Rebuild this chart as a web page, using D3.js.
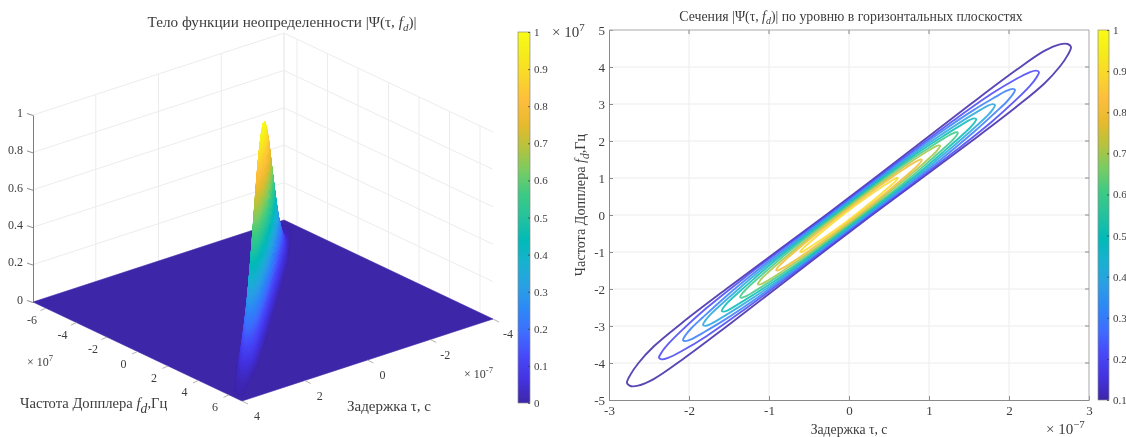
<!DOCTYPE html>
<html>
<head>
<meta charset="utf-8">
<script src="https://cdn.jsdelivr.net/npm/d3@7"></script>
<style>
  html, body { margin: 0; padding: 0; background: #fff; overflow: hidden; }
  svg { display: block; filter: blur(0.55px); }
  text { font-family: "Liberation Serif", serif; fill: #3c3c3c; }
</style>
</head>
<body>
<div id="chart"></div>
<script>
//Values. tau in 1e-7 s, fd in 1e7 Hz
const colorTicks3d = [0, 0.1, 0.2, 0.3, 0.4, 0.5, 0.6, 0.7, 0.8, 0.9, 1];
const colorTicks2d = [0.1, 0.2, 0.3, 0.4, 0.5, 0.6, 0.7, 0.8, 0.9, 1];
const zTicks = [0, 0.2, 0.4, 0.6, 0.8, 1];
const fdTicks3d = [-6, -4, -2, 0, 2, 4, 6];
const tauTicks3d = [-4, -2, 0, 2, 4];
const tauTicks2d = [-3, -2, -1, 0, 1, 2, 3];
const fdTicks2d = [-5, -4, -3, -2, -1, 0, 1, 2, 3, 4, 5];

//parula colormap
const parulaStops = ["#3e26a8", "#4433e0", "#4748f9", "#3f6cfe", "#2d87f7", "#2a9fe4", "#18b1d0",
                     "#01bab8", "#24c29d", "#3dca84", "#77cc63", "#b4c33e", "#e7ba2c", "#fdbd3c",
                     "#fad52c", "#f5eb1c", "#f9fb15"];

//Contours, one closed curve per level
const levels = [0.1, 0.2, 0.3, 0.4, 0.5, 0.6, 0.7, 0.8, 0.9];
const levelTipTau = [2.775, 2.375, 2.075, 1.825, 1.59, 1.36, 1.14, 0.91, 0.61];
const levelTipFd = [4.54, 3.86, 3.38, 2.97, 2.59, 2.22, 1.87, 1.49, 1.0];
const tipFractions = [0, 0.3, 0.55, 0.75, 0.88, 0.95, 0.985, 1];
const levelHalfWidth = [
  [0.47, 0.49, 0.51, 0.50, 0.44, 0.30, 0.15, 0],
  [0.43, 0.44, 0.43, 0.38, 0.28, 0.19, 0.10, 0],
  [0.39, 0.39, 0.37, 0.30, 0.21, 0.15, 0.08, 0],
  [0.35, 0.35, 0.32, 0.25, 0.18, 0.13, 0.07, 0],
  [0.31, 0.31, 0.28, 0.21, 0.15, 0.11, 0.06, 0],
  [0.27, 0.27, 0.24, 0.18, 0.13, 0.09, 0.05, 0],
  [0.23, 0.22, 0.19, 0.15, 0.11, 0.08, 0.04, 0],
  [0.18, 0.17, 0.15, 0.12, 0.09, 0.06, 0.035, 0],
  [0.13, 0.12, 0.10, 0.075, 0.055, 0.04, 0.02, 0]
];

//Surface heights, stations along the ridge (one side, the other mirrors it)
const ridgeTau = [0, 0.3, 0.6, 0.9, 1.2, 1.5, 1.8, 2.1, 2.4, 2.7, 3.0, 3.4, 3.9];
const ridgeFd = [0, 0.49, 0.98, 1.47, 1.96, 2.45, 2.94, 3.43, 3.92, 4.41, 4.9, 5.56, 6.37];
const ridgeOffset = [0, 0.15, 0.3, 0.4, 0.5, 0.65];
const ridgeHeight = [
  [1, 0.88, 0.6, 0.33, 0.08, 0],
  [0.975, 0.86, 0.58, 0.32, 0.08, 0],
  [0.9, 0.78, 0.52, 0.29, 0.08, 0],
  [0.8, 0.68, 0.45, 0.25, 0.08, 0],
  [0.67, 0.57, 0.38, 0.21, 0.08, 0],
  [0.54, 0.46, 0.31, 0.18, 0.07, 0],
  [0.41, 0.35, 0.24, 0.15, 0.06, 0],
  [0.29, 0.25, 0.18, 0.12, 0.05, 0],
  [0.195, 0.17, 0.125, 0.08, 0.03, 0],
  [0.115, 0.10, 0.07, 0.04, 0.01, 0],
  [0.06, 0.05, 0.035, 0.015, 0, 0],
  [0.02, 0.015, 0.01, 0, 0, 0],
  [0, 0, 0, 0, 0, 0]
];

const width = 1126;
const height = 437;
const axisColor = "#6e6e6e";
const gridColor = "#ececec";

const svg = d3.select("#chart").append("svg")
              .attr("width", width)
              .attr("height", height);

const parula = d3.scaleLinear()
                 .domain(parulaStops.map((d, i) => i / (parulaStops.length - 1)))
                 .range(parulaStops)
                 .clamp(true);

//Title helper, keeps the italic f and subscript d as real text
function addFormula(t, size) {
  t.append("tspan").text("f").attr("font-style", "italic");
  t.append("tspan").text("d").attr("font-style", "italic")
   .attr("font-size", size * 0.72).attr("dy", size * 0.25);
}

function timesTen(x, y, size, exp, anchor) {
  const t = svg.append("text").attr("x", x).attr("y", y)
               .attr("font-size", size).attr("text-anchor", anchor || "start");
  t.append("tspan").text("× 10");
  t.append("tspan").text(exp).attr("font-size", size * 0.72).attr("dy", -size * 0.42);
}

//Colorbar, shared by both plots
function colorbar(x0, x1, y0, y1, domain, ticks) {
  const id = "bar" + x0;
  const grad = svg.append("defs").append("linearGradient").attr("id", id)
                  .attr("x1", 0).attr("x2", 0).attr("y1", 1).attr("y2", 0);
  grad.selectAll("stop").data(parulaStops).join("stop")
      .attr("offset", (d, i) => i / (parulaStops.length - 1))
      .attr("stop-color", d => d);
  svg.append("rect").attr("x", x0).attr("y", y0)
     .attr("width", x1 - x0).attr("height", y1 - y0)
     .attr("fill", "url(#" + id + ")")
     .attr("stroke", "#8a8a8a").attr("stroke-width", 0.7);
  const scale = d3.scaleLinear().domain(domain).range([y1, y0]);
  const axis = svg.append("g")
                  .attr("transform", "translate(" + x1 + ",0)")
                  .call(d3.axisRight(scale).tickValues(ticks).tickFormat(String).tickSize(0).tickPadding(4));
  axis.select(".domain").remove();
  axis.selectAll("text").attr("font-size", 11).style("font-family", "Liberation Serif").attr("fill", "#3c3c3c");
  axis.selectAll(".tick").append("line")
      .attr("x1", -2).attr("x2", 0).attr("stroke", "#333").attr("stroke-width", 0.7);
}

//----- Left plot: surface in a fixed oblique view -----
const originX = 263;
const originY = 310.5;
const fdLim = 6.85;
const tauLim = 4;
const fdToX = d3.scaleLinear().domain([-fdLim, fdLim]).range([-104.5, 104.5]);
const fdToY = d3.scaleLinear().domain([-fdLim, fdLim]).range([-49.5, 49.5]);
const tauToX = d3.scaleLinear().domain([-tauLim, tauLim]).range([125.5, -125.5]);
const tauToY = d3.scaleLinear().domain([-tauLim, tauLim]).range([-41, 41]);
const zToY = d3.scaleLinear().domain([0, 1]).range([0, -187]);

function project(tau, fd, z) {
  return [originX + fdToX(fd) + tauToX(tau),
          originY + fdToY(fd) + tauToY(tau) + zToY(z || 0)];
}

const line3d = d3.line();
function wallLine(pts, color, w) {
  svg.append("path").attr("d", line3d(pts)).attr("fill", "none")
     .attr("stroke", color).attr("stroke-width", w || 1);
}

//Back walls: fd = -fdLim on the left, tau = -tauLim on the right
zTicks.filter(z => z > 0).forEach(z => {
  wallLine([project(tauLim, -fdLim, z), project(-tauLim, -fdLim, z), project(-tauLim, fdLim, z)], gridColor);
});
tauTicks3d.concat([-tauLim]).filter(t => t < tauLim).forEach(t => {
  wallLine([project(t, -fdLim, 0), project(t, -fdLim, 1)], gridColor);
});
fdTicks3d.forEach(f => {
  wallLine([project(-tauLim, f, 0), project(-tauLim, f, 1)], gridColor);
});

//Floor
svg.append("path")
   .attr("d", line3d([project(tauLim, -fdLim), project(-tauLim, -fdLim),
                      project(-tauLim, fdLim), project(tauLim, fdLim)]) + "Z")
   .attr("fill", parula(0)).attr("stroke", parula(0)).attr("stroke-width", 0.6);

//Surface mesh, interpolated shading between the stations
const fullTau = ridgeTau.slice(1).reverse().map(d => -d).concat(ridgeTau);
const fullFd = ridgeFd.slice(1).reverse().map(d => -d).concat(ridgeFd);
const fullHeight = ridgeHeight.slice(1).reverse().concat(ridgeHeight);
const fullOffset = ridgeOffset.slice(1).reverse().map(d => -d).concat(ridgeOffset);
const fullRow = r => r.slice(1).reverse().concat(r);
const heightGrid = fullHeight.map(fullRow);

function vertex(u, v) {
  const i = Math.min(Math.floor(u), fullTau.length - 2);
  const j = Math.min(Math.floor(v), fullOffset.length - 2);
  const a = u - i;
  const b = v - j;
  const tau = fullTau[i] + a * (fullTau[i + 1] - fullTau[i]);
  const fd = fullFd[i] + a * (fullFd[i + 1] - fullFd[i]) +
             fullOffset[j] + b * (fullOffset[j + 1] - fullOffset[j]);
  const z = (1 - a) * (1 - b) * heightGrid[i][j] + a * (1 - b) * heightGrid[i + 1][j] +
            (1 - a) * b * heightGrid[i][j + 1] + a * b * heightGrid[i + 1][j + 1];
  return {tau: tau, fd: fd, z: z};
}

const quads = [];
const subU = 8;
const subV = 6;
for (let u = 0; u < (fullTau.length - 1) * subU; u++) {
  for (let v = 0; v < (fullOffset.length - 1) * subV; v++) {
    const c = [vertex(u / subU, v / subV), vertex((u + 1) / subU, v / subV),
               vertex((u + 1) / subU, (v + 1) / subV), vertex(u / subU, (v + 1) / subV)];
    const z = d3.mean(c, d => d.z);
    if (z <= 0.002) continue;
    quads.push({
      pts: c.map(d => project(d.tau, d.fd, d.z)),
      z: z,
      depth: d3.mean(c, d => project(d.tau, d.fd, 0)[1])
    });
  }
}
quads.sort((a, b) => a.depth - b.depth);

svg.append("g").selectAll("path").data(quads).join("path")
   .attr("d", d => line3d(d.pts) + "Z")
   .attr("fill", d => parula(d.z))
   .attr("stroke", d => parula(d.z))
   .attr("stroke-width", 0.5);

//z axis
const zAxisScale = d3.scaleLinear().domain([0, 1]).range([project(tauLim, -fdLim, 0)[1], project(tauLim, -fdLim, 1)[1]]);
const zAxis = svg.append("g")
                 .attr("transform", "translate(" + project(tauLim, -fdLim)[0] + ",0)")
                 .call(d3.axisLeft(zAxisScale).tickValues(zTicks).tickFormat(String).tickSize(0).tickPadding(10));
zAxis.select(".domain").attr("stroke", axisColor).attr("stroke-width", 0.9);
zAxis.selectAll(".tick line").attr("x2", -6).attr("y2", -2).attr("stroke", axisColor).attr("stroke-width", 0.8);
zAxis.selectAll("text").attr("font-size", 12).attr("dy", "0.1em").attr("fill", "#3c3c3c").style("font-family", "Liberation Serif");

//Floor axes, ticks and labels placed through the projection
fdTicks3d.forEach(f => {
  const p = project(tauLim, f);
  wallLine([p, [p[0] - 5.5, p[1] + 2.5]], "#a0a0a0", 0.8);
  svg.append("text").attr("x", p[0] - 14).attr("y", p[1] + 16)
     .attr("text-anchor", "middle").attr("font-size", 12).text(f);
});
tauTicks3d.forEach(t => {
  const p = project(t, fdLim);
  wallLine([p, [p[0] + 6, p[1] + 3]], "#a0a0a0", 0.8);
  svg.append("text").attr("x", p[0] + 15).attr("y", p[1] + 19)
     .attr("text-anchor", "middle").attr("font-size", 12).text(t);
});

//Left titles
const title3d = svg.append("text").attr("x", 282).attr("y", 27)
                   .attr("text-anchor", "middle").attr("font-size", 15.2);
title3d.append("tspan").text("Тело функции неопределенности |Ψ(τ, ");
addFormula(title3d, 15.2);
title3d.append("tspan").text(")|").attr("dy", -3.8);

const fdLabel3d = svg.append("text").attr("x", 20).attr("y", 408).attr("font-size", 14.6);
fdLabel3d.append("tspan").text("Частота Допплера ");
addFormula(fdLabel3d, 19);
fdLabel3d.append("tspan").text(",Гц").attr("dy", -4.7);

svg.append("text").attr("x", 347).attr("y", 411).attr("font-size", 15).text("Задержка τ, с");
timesTen(27, 366, 12, "7");
timesTen(464, 378, 12, "-7");

colorbar(518, 530, 32, 403, [0, 1], colorTicks3d);

//----- Right plot: contour lines -----
const left = 609;
const right = 1089;
const top2d = 30;
const bottom = 400;
const xScale = d3.scaleLinear().domain([-3, 3]).range([left, right]);
const yScale = d3.scaleLinear().domain([-5, 5]).range([bottom, top2d]);

//Grid
svg.append("g").selectAll("line").data(tauTicks2d.slice(1, -1)).join("line")
   .attr("x1", d => xScale(d)).attr("x2", d => xScale(d))
   .attr("y1", top2d).attr("y2", bottom).attr("stroke", gridColor);
svg.append("g").selectAll("line").data(fdTicks2d.slice(1, -1)).join("line")
   .attr("x1", left).attr("x2", right)
   .attr("y1", d => yScale(d)).attr("y2", d => yScale(d)).attr("stroke", gridColor);

//Contours from the table above
const contourLine = d3.line()
                      .x(d => xScale(d[0]))
                      .y(d => yScale(d[1]))
                      .curve(d3.curveCatmullRomClosed.alpha(0.5));
const contours = levels.map((lvl, k) => {
  const pts = [];
  const tips = tipFractions;
  //upper edge from the lower tip to the upper tip
  for (let i = tips.length - 1; i > 0; i--) {
    pts.push([-tips[i] * levelTipTau[k], -tips[i] * levelTipFd[k] + levelHalfWidth[k][i]]);
  }
  for (let i = 0; i < tips.length; i++) {
    pts.push([tips[i] * levelTipTau[k], tips[i] * levelTipFd[k] + levelHalfWidth[k][i]]);
  }
  //lower edge on the way back
  for (let i = tips.length - 2; i > 0; i--) {
    pts.push([tips[i] * levelTipTau[k], tips[i] * levelTipFd[k] - levelHalfWidth[k][i]]);
  }
  for (let i = 0; i < tips.length - 1; i++) {
    pts.push([-tips[i] * levelTipTau[k], -tips[i] * levelTipFd[k] - levelHalfWidth[k][i]]);
  }
  return {level: lvl, pts: pts};
});
svg.append("g").selectAll("path").data(contours).join("path")
   .attr("d", d => contourLine(d.pts))
   .attr("fill", "none")
   .attr("stroke", d => parula((d.level - 0.1) / 0.9))
   .attr("stroke-opacity", 0.85)
   .attr("stroke-width", 1.9);

//Axes
const xAxis2d = svg.append("g").attr("transform", "translate(0," + bottom + ")")
                   .call(d3.axisBottom(xScale).tickValues(tauTicks2d).tickFormat(String).tickSizeInner(-4).tickSizeOuter(0).tickPadding(6));
const yAxis2d = svg.append("g").attr("transform", "translate(" + left + ",0)")
                   .call(d3.axisLeft(yScale).tickValues(fdTicks2d).tickFormat(String).tickSizeInner(-4).tickSizeOuter(0).tickPadding(4));
[xAxis2d, yAxis2d].forEach(a => {
  a.select(".domain").attr("stroke", "#8a8a8a").attr("stroke-width", 1);
  a.selectAll(".tick line").attr("stroke", "#8a8a8a");
  a.selectAll("text").attr("font-size", 13).attr("fill", "#3c3c3c").style("font-family", "Liberation Serif");
});
svg.append("path").attr("d", line3d([[left, top2d], [right, top2d], [right, bottom]]))
   .attr("fill", "none").attr("stroke", "#a8a8a8");
svg.append("g").selectAll("line").data(tauTicks2d.slice(1, -1)).join("line")
   .attr("x1", d => xScale(d)).attr("x2", d => xScale(d))
   .attr("y1", top2d).attr("y2", top2d + 4).attr("stroke", "#8a8a8a");
svg.append("g").selectAll("line").data(fdTicks2d.slice(1, -1)).join("line")
   .attr("x1", right - 4).attr("x2", right)
   .attr("y1", d => yScale(d)).attr("y2", d => yScale(d)).attr("stroke", "#8a8a8a");

//Right titles
const title2d = svg.append("text").attr("x", 851).attr("y", 21)
                   .attr("text-anchor", "middle").attr("font-size", 13.8).attr("font-weight", 500);
title2d.append("tspan").text("Сечения |Ψ(τ, ");
addFormula(title2d, 13.8);
title2d.append("tspan").text(")| по уровню в горизонтальных плоскостях").attr("dy", -3.4);

svg.append("text").attr("x", 849).attr("y", 434)
   .attr("text-anchor", "middle").attr("font-size", 13.7).text("Задержка τ, с");

const fdLabel2d = svg.append("text")
                     .attr("transform", "translate(585,205) rotate(-90)")
                     .attr("text-anchor", "middle").attr("font-size", 14.2);
fdLabel2d.append("tspan").text("Частота Допплера ");
addFormula(fdLabel2d, 16);
fdLabel2d.append("tspan").text(",Гц").attr("dy", -4);

timesTen(552, 37, 15, "7");
timesTen(1046, 434, 15, "−7");

colorbar(1098, 1109, 30, 400, [0.1, 1], colorTicks2d);
</script>
</body>
</html>
